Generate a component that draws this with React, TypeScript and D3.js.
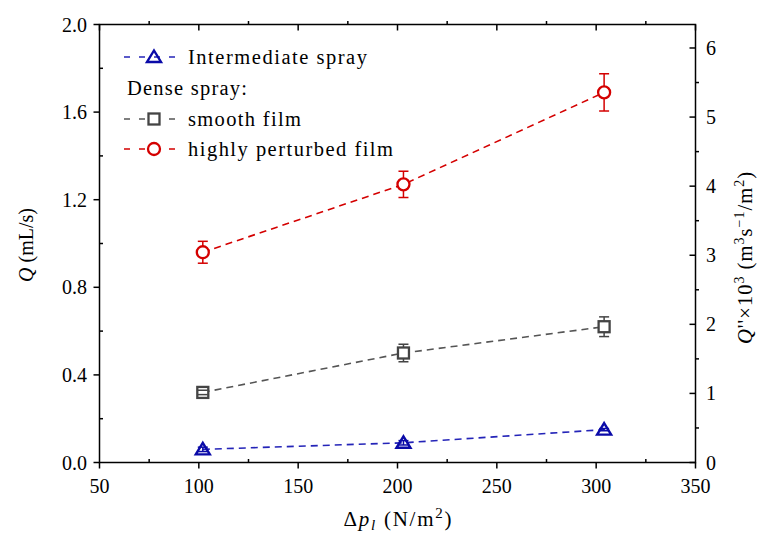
import React from "react";
import * as d3 from "d3";

// pressure drop (N/m^2)
const pressure = [102, 203, 304];

// flow rates Q (mL/s) and error
const intermediate = [0.06, 0.09, 0.15];
const intermediateErr = [0.01, 0.01, 0.005];
const smoothFilm = [0.32, 0.5, 0.62];
const smoothErr = [0.01, 0.04, 0.045];
const perturbedFilm = [0.96, 1.27, 1.69];
const perturbedErr = [0.05, 0.06, 0.085];

const xMajor = [50, 100, 150, 200, 250, 300, 350];
const xMinor = [75, 125, 175, 225, 275, 325];
const yMajor = [0, 0.4, 0.8, 1.2, 1.6, 2.0];
const yMinor = [0.2, 0.6, 1.0, 1.4, 1.8];
const y2Major = [0, 1, 2, 3, 4, 5, 6];
const y2Minor = [0.5, 1.5, 2.5, 3.5, 4.5, 5.5];

const FONT = "'Liberation Serif', 'DejaVu Serif', serif";
const W = 760;
const H = 536;
const M = { left: 99.5, right: 695.5, top: 24.5, bottom: 462.5 };

const BLUE = "#0a0aa8";
const GRAY = "#444444";
const RED = "#d40000";

type Shape = "triangle" | "square" | "circle";

const Marker = ({ x, y, shape, color }: { x: number; y: number; shape: Shape; color: string }) => {
  if (shape === "circle")
    return <circle cx={x} cy={y} r={6} fill="white" stroke={color} strokeWidth={2.3} />;
  if (shape === "square")
    return <rect x={x - 5.5} y={y - 5.5} width={11} height={11} fill="white" stroke={color} strokeWidth={2.3} />;
  const pts = [
    [x, y - 6.5],
    [x + 7, y + 5],
    [x - 7, y + 5],
  ];
  return (
    <polygon
      points={pts.map((p) => p.join(",")).join(" ")}
      fill="none"
      stroke={color}
      strokeWidth={2.4}
      strokeLinejoin="miter"
    />
  );
};

const App = () => {
  const x = d3.scaleLinear().domain([50, 350]).range([M.left, M.right]);
  const y = d3.scaleLinear().domain([0, 2]).range([M.bottom, M.top]);
  const y2 = d3.scaleLinear().domain([0, 6.34]).range([M.bottom, M.top]);

  const series = [
    { values: perturbedFilm, err: perturbedErr, color: RED, shape: "circle" as Shape, lineColor: RED },
    { values: smoothFilm, err: smoothErr, color: GRAY, shape: "square" as Shape, lineColor: "#555" },
    { values: intermediate, err: intermediateErr, color: BLUE, shape: "triangle" as Shape, lineColor: "#2424b8" },
  ];

  const line = d3
    .line<number>()
    .x((_, i) => x(pressure[i]))
    .y((d) => y(d));

  const legendRows = [
    { label: "Intermediate spray", len: 179, color: BLUE, line: "#2424b8", shape: "triangle" as Shape, cy: 57 },
    { label: "smooth film", len: 113, color: GRAY, line: "#555", shape: "square" as Shape, cy: 119 },
    { label: "highly perturbed film", len: 205, color: RED, line: RED, shape: "circle" as Shape, cy: 149 },
  ];

  return (
    <svg
      width={W}
      height={H}
      style={{ position: "absolute", left: 0, top: 0, background: "white" }}
      fontFamily={FONT}
    >
      <rect width={W} height={H} fill="white" />

      {/* frame */}
      <rect
        x={M.left}
        y={M.top}
        width={M.right - M.left}
        height={M.bottom - M.top}
        fill="none"
        stroke="black"
        strokeWidth={1.5}
      />

      {/* bottom + top ticks */}
      {xMajor.map((t) => (
        <g key={"xm" + t}>
          <line x1={x(t)} x2={x(t)} y1={M.bottom} y2={M.bottom + 6} stroke="black" strokeWidth={1.5} />
          <line x1={x(t)} x2={x(t)} y1={M.top} y2={M.top + 6} stroke="black" strokeWidth={1.5} />
          <text x={x(t)} y={493} textAnchor="middle" fontSize={20}>
            {t}
          </text>
        </g>
      ))}
      {xMinor.map((t) => (
        <g key={"xn" + t}>
          <line x1={x(t)} x2={x(t)} y1={M.bottom} y2={M.bottom - 3.5} stroke="black" strokeWidth={1.5} />
          <line x1={x(t)} x2={x(t)} y1={M.top} y2={M.top - 3.5} stroke="black" strokeWidth={1.5} />
        </g>
      ))}

      {/* left axis */}
      {yMajor.map((t) => (
        <g key={"ym" + t}>
          <line x1={M.left - 6} x2={M.left} y1={y(t)} y2={y(t)} stroke="black" strokeWidth={1.5} />
          <text x={87} y={y(t)} dy="0.35em" textAnchor="end" fontSize={20}>
            {d3.format(".1f")(t)}
          </text>
        </g>
      ))}
      {yMinor.map((t) => (
        <line key={"yn" + t} x1={M.left} x2={M.left + 3.5} y1={y(t)} y2={y(t)} stroke="black" strokeWidth={1.5} />
      ))}

      {/* right axis */}
      {y2Major.map((t) => (
        <g key={"y2m" + t}>
          <line x1={M.right - 6} x2={M.right} y1={y2(t)} y2={y2(t)} stroke="black" strokeWidth={1.5} />
          <text x={706} y={y2(t)} dy="0.35em" textAnchor="start" fontSize={20}>
            {t}
          </text>
        </g>
      ))}
      {y2Minor.map((t) => (
        <line key={"y2n" + t} x1={M.right} x2={M.right + 3.5} y1={y2(t)} y2={y2(t)} stroke="black" strokeWidth={1.5} />
      ))}

      {/* axis titles */}
      <text x={397.5} y={526} textAnchor="middle" fontSize={21} textLength={108} lengthAdjust="spacing">
        Δ<tspan fontStyle="italic">p</tspan>
        <tspan fontStyle="italic" fontSize={15} dy={4}>l</tspan>
        <tspan dy={-4}> (N/m</tspan>
        <tspan fontSize={15} dy={-8}>2</tspan>
        <tspan dy={8}>)</tspan>
      </text>
      <text transform="translate(33,245) rotate(-90)" textAnchor="middle" fontSize={20}>
        <tspan fontStyle="italic">Q</tspan> (mL/s)
      </text>
      <text
        transform="translate(752,258) rotate(-90)"
        textAnchor="middle"
        fontSize={20.5}
        textLength={172}
        lengthAdjust="spacing"
      >
        <tspan fontStyle="italic">Q</tspan>''×10
        <tspan fontSize={14} dy={-8}>3</tspan>
        <tspan dy={8}> (m</tspan>
        <tspan fontSize={14} dy={-8}>3</tspan>
        <tspan dy={8}>s</tspan>
        <tspan fontSize={14} dy={-8}>−1</tspan>
        <tspan dy={8}>/m</tspan>
        <tspan fontSize={14} dy={-8}>2</tspan>
        <tspan dy={8}>)</tspan>
      </text>

      {/* series */}
      {series.map((s, si) => (
        <g key={"s" + si}>
          <path d={line(s.values) ?? ""} fill="none" stroke={s.lineColor} strokeWidth={1.6} strokeDasharray="7,5" />
          {s.values.map((v, i) => (
            <line
              key={"st" + i}
              x1={x(pressure[i])}
              x2={x(pressure[i])}
              y1={y(v + s.err[i])}
              y2={y(v - s.err[i])}
              stroke={s.color}
              strokeWidth={1.5}
            />
          ))}
          {s.values.map((v, i) => (
            <Marker key={"mk" + i} x={x(pressure[i])} y={y(v)} shape={s.shape} color={s.color} />
          ))}
          {s.values.map((v, i) => (
            <g key={"cap" + i} stroke={s.color} strokeWidth={1.5}>
              <line x1={x(pressure[i]) - 5} x2={x(pressure[i]) + 5} y1={y(v + s.err[i])} y2={y(v + s.err[i])} />
              <line x1={x(pressure[i]) - 5} x2={x(pressure[i]) + 5} y1={y(v - s.err[i])} y2={y(v - s.err[i])} />
            </g>
          ))}
        </g>
      ))}

      {/* legend */}
      {legendRows.map((r) => (
        <g key={r.label}>
          <line x1={124} x2={183} y1={r.cy} y2={r.cy} stroke={r.line} strokeWidth={1.6} strokeDasharray="6,9" />
          <Marker x={154} y={r.cy} shape={r.shape} color={r.color} />
          <text x={188} y={r.cy} dy="0.33em" fontSize={20.5} textLength={r.len} lengthAdjust="spacing">
            {r.label}
          </text>
        </g>
      ))}
      <text x={127} y={88} dy="0.33em" fontSize={20.5} textLength={120} lengthAdjust="spacing">
        Dense spray:
      </text>
    </svg>
  );
};

export default App;
